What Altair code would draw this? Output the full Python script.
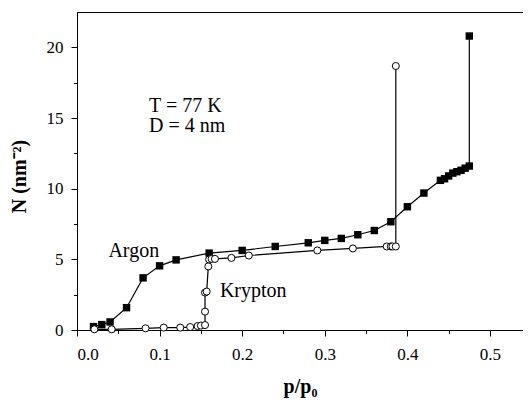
import altair as alt
import pandas as pd

# Argon (filled squares)
argon_x = [0.02, 0.03, 0.04, 0.06, 0.08, 0.10, 0.12, 0.16, 0.20, 0.24, 0.28, 0.30,
           0.32, 0.34, 0.36, 0.38, 0.40, 0.42, 0.44, 0.445, 0.45, 0.455, 0.46,
           0.465, 0.47, 0.475, 0.475]
argon_y = [0.24, 0.38, 0.57, 1.58, 3.69, 4.54, 4.96, 5.44, 5.63, 5.91, 6.17, 6.34,
           6.48, 6.74, 7.04, 7.66, 8.72, 9.69, 10.59, 10.7, 10.9, 11.1, 11.2,
           11.3, 11.45, 11.6, 20.8]

# Krypton (open circles)
krypton_x = [0.021, 0.042, 0.083, 0.105, 0.125, 0.137, 0.146, 0.150, 0.155, 0.155,
             0.155, 0.157, 0.159, 0.160, 0.163, 0.167, 0.187, 0.208, 0.291, 0.334,
             0.375, 0.380, 0.382, 0.386, 0.386]
krypton_y = [0.05, 0.05, 0.12, 0.17, 0.17, 0.21, 0.28, 0.31, 0.35, 1.3,
             2.65, 2.72, 4.5, 4.99, 5.03, 5.03, 5.1, 5.27, 5.63, 5.77,
             5.91, 5.91, 5.91, 5.91, 18.68]

labels_text = ["T = 77 K", "D = 4 nm", "Argon", "Krypton"]
labels_x = [0.0873, 0.0873, 0.038, 0.173]
labels_y = [15.45, 14.0, 5.19, 2.36]

x_major = [0.0, 0.1, 0.2, 0.3, 0.4, 0.5]
x_minor = [0.05, 0.15, 0.25, 0.35, 0.45]
y_major = [0, 5, 10, 15, 20]
y_minor = [2.5, 7.5, 12.5, 17.5]

ar = pd.DataFrame({"x": argon_x, "y": argon_y, "i": range(len(argon_x))})
kr = pd.DataFrame({"x": krypton_x, "y": krypton_y, "i": range(len(krypton_x))})
lab = pd.DataFrame({"t": labels_text, "x": labels_x, "y": labels_y})

FONT = "Liberation Serif"
xs = alt.Scale(domain=[0, 0.54], nice=False, zero=False)
ys = alt.Scale(domain=[0, 22.5], nice=False, zero=False)

common_axis = dict(labelFont=FONT, labelFontSize=17, labelColor="black",
                   tickColor="black", domainColor="black", grid=False,
                   titleFont=FONT, titleColor="black", titleFontWeight="bold",
                   titleFontSize=20)

x_major_axis = alt.Axis(values=x_major, format=".1f", tickSize=6, orient="bottom",
                        labelPadding=10, title="p/p₀", titleY=62,
                        titleBaseline="alphabetic", **common_axis)
y_major_axis = alt.Axis(values=y_major, format="d", tickSize=6, orient="left",
                        labelPadding=8, title="N (nm⁻²)", titleX=-58,
                        titleY=164, titleBaseline="middle", titleAlign="center",
                        **common_axis)
x_minor_axis = alt.Axis(values=x_minor, labels=False, tickSize=3.5, orient="bottom",
                        title=None, domain=False, tickColor="black", grid=False)
y_minor_axis = alt.Axis(values=y_minor, labels=False, tickSize=3.5, orient="left",
                        title=None, domain=False, tickColor="black", grid=False)

ar_line = alt.Chart(ar).mark_line(color="black", strokeWidth=1.2).encode(
    x=alt.X("x:Q", scale=xs, axis=x_major_axis),
    y=alt.Y("y:Q", scale=ys, axis=y_major_axis),
    order="i:Q",
)
kr_line = alt.Chart(kr).mark_line(color="black", strokeWidth=1.2).encode(
    x=alt.X("x:Q", scale=xs, axis=x_minor_axis),
    y=alt.Y("y:Q", scale=ys, axis=y_minor_axis),
    order="i:Q",
)
ar_pts = alt.Chart(ar).mark_point(shape="square", filled=True, color="black",
                                  size=55, opacity=1).encode(
    x=alt.X("x:Q", scale=xs, axis=None),
    y=alt.Y("y:Q", scale=ys, axis=None),
)
kr_pts = alt.Chart(kr).mark_point(shape="circle", filled=True, fill="white",
                                  stroke="black", strokeWidth=1, size=50,
                                  opacity=1).encode(
    x=alt.X("x:Q", scale=xs, axis=None),
    y=alt.Y("y:Q", scale=ys, axis=None),
)
texts = alt.Chart(lab).mark_text(font=FONT, fontSize=20, color="black",
                                 align="left", baseline="alphabetic").encode(
    x=alt.X("x:Q", scale=xs, axis=None),
    y=alt.Y("y:Q", scale=ys, axis=None),
    text="t:N",
)

chart = alt.layer(ar_line, kr_line, ar_pts, kr_pts, texts).resolve_axis(
    x="independent", y="independent"
).properties(
    width=446, height=318,
    autosize=alt.AutoSizeParams(type="none"),
    padding={"left": 69, "top": 4, "right": 0, "bottom": 73},
).configure_view(stroke="black", strokeWidth=1)

chart.save("out.html", embed_options={"renderer": "svg", "actions": False})
